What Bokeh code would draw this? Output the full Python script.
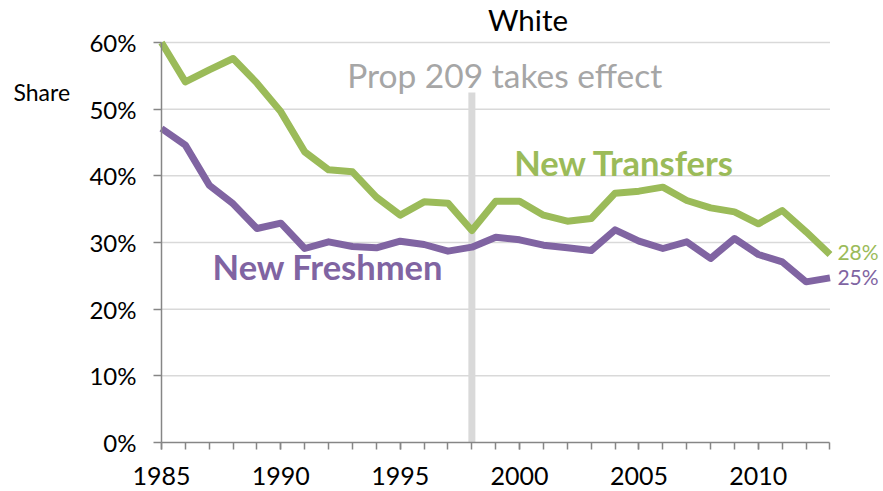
from bokeh.plotting import figure
from bokeh.models import Range1d, FixedTicker, PrintfTickFormatter, ColumnDataSource
from bokeh.core.properties import value
from bokeh.embed import file_html
from bokeh.resources import INLINE

years = list(range(1985, 2014))
transfers = [60.0, 54.1, 55.9, 57.6, 53.9, 49.6, 43.6, 40.9, 40.6, 36.8, 34.1, 36.1, 35.9, 31.8,
             36.2, 36.2, 34.1, 33.2, 33.6, 37.4, 37.7, 38.3, 36.3, 35.2, 34.6, 32.8, 34.8, 31.6, 28.2]
freshmen = [47.1, 44.6, 38.6, 35.8, 32.1, 32.9, 29.1, 30.1, 29.4, 29.2, 30.2, 29.7, 28.7, 29.3,
            30.8, 30.4, 29.6, 29.2, 28.8, 31.9, 30.2, 29.1, 30.1, 27.6, 30.6, 28.2, 27.1, 24.1, 24.7]
y_ticks = [0, 10, 20, 30, 40, 50, 60]
x_ticks = [1985, 1990, 1995, 2000, 2005, 2010]
prop_year = 1998
prop_top = 52.5
title_text = "White"
prop_text = "Prop 209 takes effect"
series_names = ["New Transfers", "New Freshmen"]
end_labels = ["28%", "25%"]
y_label = "Share"

GREEN = "#9bbb59"
PURPLE = "#8064a2"
FONT = "Lato"

p = figure(width=883, height=491, output_backend="svg", toolbar_location=None,
           x_range=Range1d(1978.257, 2015.241), y_range=Range1d(-7.35, 66.3),
           min_border_left=0, min_border_right=0, min_border_top=0, min_border_bottom=0)
p.outline_line_color = None
p.xgrid.visible = False
p.ygrid.visible = False
p.background_fill_color = "white"

# gridlines
gy = y_ticks[1:]
p.segment(x0=[years[0]] * len(gy), x1=[years[-1]] * len(gy), y0=gy, y1=gy,
          line_color="#d9d9d9", line_width=1.5)

# Prop 209 bar
p.segment(x0=[prop_year], x1=[prop_year], y0=[0], y1=[prop_top], line_color="#d9d9d9", line_width=7)

src = ColumnDataSource(dict(year=years, t=transfers, f=freshmen))
p.line("year", "t", source=src, line_color=GREEN, line_width=7, line_join="round")
p.line("year", "f", source=src, line_color=PURPLE, line_width=7, line_join="round")

# axes
xa = p.xaxis[0]
xa.fixed_location = 0
xa.ticker = FixedTicker(ticks=x_ticks, minor_ticks=years)
xa.bounds = (years[0], years[-1])
xa.axis_line_color = "#868686"
xa.axis_line_width = 1.5
xa.major_tick_line_color = "#868686"
xa.minor_tick_line_color = "#868686"
xa.major_tick_line_width = 1.5
xa.minor_tick_line_width = 1.5
xa.major_tick_in = 0
xa.major_tick_out = 7
xa.minor_tick_in = 0
xa.minor_tick_out = 7
xa.major_label_text_font = FONT
xa.major_label_text_font_size = "25px"
xa.major_label_text_color = "black"
xa.major_label_standoff = 17

ya = p.yaxis[0]
ya.fixed_location = 1985
ya.ticker = FixedTicker(ticks=y_ticks)
ya.bounds = (y_ticks[0], y_ticks[-1])
ya.formatter = PrintfTickFormatter(format="%d%%")
ya.axis_line_color = "#868686"
ya.axis_line_width = 1.5
ya.major_tick_line_color = "#868686"
ya.major_tick_line_width = 1.5
ya.major_tick_in = 0
ya.major_tick_out = 8
ya.minor_tick_line_color = None
ya.major_label_text_font = FONT
ya.major_label_text_font_size = "24px"
ya.major_label_text_color = "black"
ya.major_label_standoff = 17

# texts
p.text(x=[2000.35], y=[63.4], text=[title_text], text_font=value(FONT), text_font_size="29.5px",
       text_color="black", text_align="center", text_baseline="alphabetic")
p.text(x=[1999.375], y=[55.1], text=[prop_text], text_font=value(FONT), text_font_size="33.5px",
       text_color="#a6a6a6", text_align="center", text_baseline="alphabetic")
p.text(x=[2004.39], y=[42.0], text=[series_names[0]], text_font=value(FONT), text_font_size="34.5px",
       text_font_style="bold", text_color=GREEN, text_align="center", text_baseline="alphabetic")
p.text(x=[1991.97], y=[26.4], text=[series_names[1]], text_font=value(FONT), text_font_size="34.5px",
       text_font_style="bold", text_color=PURPLE, text_align="center", text_baseline="alphabetic")
p.text(x=[2013.31, 2013.31], y=[28.65, 24.9], text=end_labels, text_font=value(FONT),
       text_font_size="21px", text_color=[GREEN, PURPLE], text_align="left", text_baseline="alphabetic")
p.text(x=[1978.8], y=[52.55], text=[y_label], text_font=value(FONT), text_font_size="23px",
       text_color="black", text_align="left", text_baseline="alphabetic")

open("out.html", "w").write(file_html(p, INLINE))
